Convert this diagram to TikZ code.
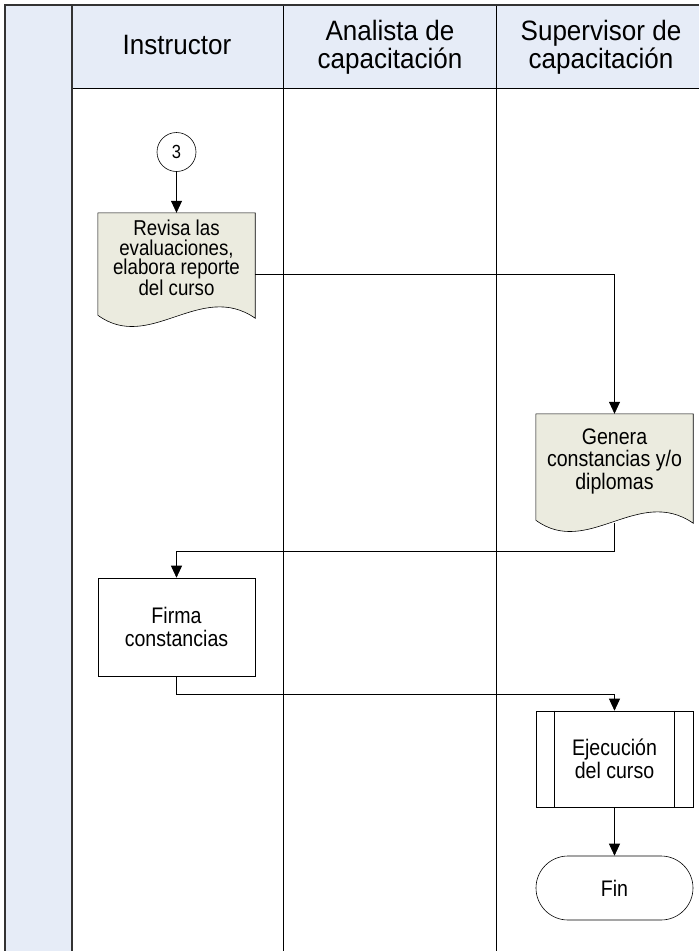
\documentclass[tikz,border=0pt]{standalone}
\usepackage{fontspec}
\setmainfont{Liberation Sans}
\newfontfamily\headfont[FakeStretch=0.93]{Liberation Sans}
\newfontfamily\boxfont[FakeStretch=0.87]{Liberation Sans}
\usetikzlibrary{arrows.meta,shapes.misc,backgrounds,positioning}
\definecolor{laneblue}{HTML}{E6ECF7}
\definecolor{docgray}{HTML}{EBEBDF}
\tikzset{
  frame/.style = {draw=black!80, line width=1.4pt},
  lane/.style = {draw=black, line width=0.8pt},
  headtext/.style = {align=center, font=\headfont\fontsize{28}{28}\selectfont},
  boxtext/.style = {align=center, inner sep=0pt, text centered, font=\boxfont\fontsize{22.5}{22.5}\selectfont},
  ProcNode/.style = {boxtext, rectangle, draw, line width=0.6pt, minimum width=157pt, minimum height=98pt},
  DocNode/.style = {boxtext, rectangle, minimum width=157pt},
  SubNode/.style = {ProcNode, minimum height=96pt},
  EndNode/.style = {boxtext, rounded rectangle, draw, line width=0.6pt, minimum width=157pt, minimum height=64pt},
  LinkNode/.style = {boxtext, circle, draw, line width=0.6pt, minimum size=39pt, font=\boxfont\fontsize{19}{20}\selectfont},
  flow/.style = {-{Triangle[length=12pt,width=11pt]}, line width=0.7pt}
}
% document outline behind a text node
\newcommand{\docshape}[1]{%
  \begin{scope}[on background layer]
    \draw[fill=docgray, line width=0.6pt] (#1.north west) -- (#1.north east) -- ([yshift=-15pt]#1.south east)
      .. controls +(-55pt,38pt) and +(52pt,-38pt) .. ([yshift=-12pt]#1.south west) -- cycle;
  \end{scope}}

\begin{document}
\begin{tikzpicture}[x=1pt,y=-1pt]
  \useasboundingbox (0,0) rectangle (699,951);
  % lanes
  \fill[laneblue] (5,5) rectangle (699,88);
  \fill[laneblue] (5,5) rectangle (72,951);
  \draw[lane] (72,88) -- (699,88);
  \draw[lane] (283,5) -- (283,951);
  \draw[lane] (496,5) -- (496,951);
  \draw[frame] (5,951) -- (5,5) -- (699,5);
  \draw[frame] (72,5) -- (72,951);
  \node[headtext] (hInst) at (177,45) {Instructor};
  \node[headtext] (hAnal) at (390,47) {Analista de\\capacitación};
  \node[headtext] (hSup) at (601,47) {Supervisor de\\capacitación};

  % steps
  \node[LinkNode] (c3) at (176.5,152) {3};
  \node[DocNode, minimum height=90pt, font=\boxfont\fontsize{21.5}{19.5}\selectfont] (revisa) at (176.5,258) {Revisa las\\evaluaciones,\\elabora reporte\\del curso};
  \docshape{revisa}
  \node[DocNode, minimum height=94pt] (genera) at (614.5,461) {Genera\\constancias y/o\\diplomas};
  \docshape{genera}
  \node[ProcNode] (firma) at (176.5,627) {Firma\\constancias};
  \node[SubNode] (ejec) at (614.5,759) {Ejecución\\del curso};
  \draw[line width=0.6pt] ([xshift=19pt]ejec.north west) -- ([xshift=19pt]ejec.south west);
  \draw[line width=0.6pt] ([xshift=-19pt]ejec.north east) -- ([xshift=-19pt]ejec.south east);
  \node[EndNode] (fin) at (614.5,888) {Fin};

  % connectors
  \draw[flow] (c3) -- (revisa.north);
  \draw[flow] ([yshift=-16pt]revisa.east) -| (genera.north);
  \draw[flow] ([yshift=-15pt]genera.south) -- ++(0,-28pt) -| (firma.north);
  \draw[flow] (firma.south) -- ++(0,-18pt) -| (ejec.north);
  \draw[flow] (ejec) -- (fin);
\end{tikzpicture}
\end{document}
